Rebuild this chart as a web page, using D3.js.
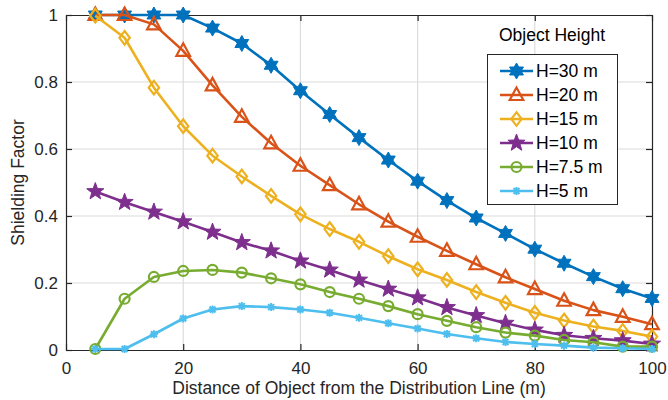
<!DOCTYPE html>
<html>
<head>
<meta charset="utf-8">
<script src="https://cdn.jsdelivr.net/npm/d3@7"></script>
<style>
  body { margin: 0; background: #fff; }
  svg { display: block; font-family: "Liberation Sans", Arial, sans-serif; }
</style>
</head>
<body>
<svg id="chart" width="668" height="400"></svg>
<script>
// Distance from the distribution line (m)
const distances = [5, 10, 15, 20, 25, 30, 35, 40, 45, 50, 55, 60, 65, 70, 75, 80, 85, 90, 95, 100];

// Shielding factor per object height
const h30 = [1.0, 1.0, 1.0, 1.0, 0.961, 0.915, 0.850, 0.774, 0.703, 0.634, 0.567, 0.504, 0.446, 0.394, 0.348, 0.301, 0.259, 0.219, 0.183, 0.154];
const h20 = [1.0, 1.0, 0.972, 0.893, 0.790, 0.696, 0.617, 0.550, 0.492, 0.435, 0.383, 0.338, 0.296, 0.256, 0.217, 0.182, 0.147, 0.119, 0.099, 0.077];
const h15 = [0.998, 0.932, 0.783, 0.668, 0.580, 0.518, 0.460, 0.405, 0.361, 0.323, 0.280, 0.241, 0.209, 0.173, 0.141, 0.111, 0.088, 0.070, 0.057, 0.040];
const h10 = [0.473, 0.441, 0.412, 0.383, 0.352, 0.321, 0.296, 0.266, 0.239, 0.209, 0.182, 0.156, 0.127, 0.103, 0.080, 0.060, 0.044, 0.035, 0.028, 0.018];
const h7_5 = [0.003, 0.153, 0.218, 0.236, 0.239, 0.231, 0.214, 0.196, 0.173, 0.153, 0.131, 0.107, 0.087, 0.068, 0.052, 0.043, 0.030, 0.023, 0.010, 0.010];
const h5 = [0.003, 0.003, 0.047, 0.094, 0.121, 0.131, 0.128, 0.121, 0.111, 0.096, 0.080, 0.064, 0.048, 0.035, 0.024, 0.018, 0.013, 0.007, 0.005, 0.003];

const seriesNames = ["H=30 m", "H=20 m", "H=15 m", "H=10 m", "H=7.5 m", "H=5 m"];
const seriesValues = [h30, h20, h15, h10, h7_5, h5];
const seriesColors = ["#0072BD", "#D95319", "#EDB120", "#7E2F8E", "#77AC30", "#4DBEEE"];
const seriesMarkers = ["hexagram", "triangle", "diamond", "pentagram", "circle", "asterisk"];

const xTicks = [0, 20, 40, 60, 80, 100];
const yTicks = [0, 0.2, 0.4, 0.6, 0.8, 1];
const xLabel = "Distance of Object from the Distribution Line (m)";
const yLabel = "Shielding Factor";
const legendTitle = "Object Height";

const svg = d3.select("#chart");
const margin = { left: 66, right: 16, top: 15, bottom: 50 };
const W = 668, H = 400;
const x = d3.scaleLinear().domain([0, 100]).range([margin.left, W - margin.right]);
const y = d3.scaleLinear().domain([0, 1]).range([H - margin.bottom, margin.top]);

const axisColor = "#262626";
const tickFont = 17;
const labelFont = 17.5;
const legendFont = 17.5;

// star path with n points
function starPath(n, rOuter, rInner) {
  const pts = [];
  for (let i = 0; i < 2 * n; i++) {
    const a = -Math.PI / 2 + i * Math.PI / n;
    const r = i % 2 === 0 ? rOuter : rInner;
    pts.push([r * Math.cos(a), r * Math.sin(a)]);
  }
  return "M" + pts.map(p => p[0].toFixed(2) + "," + p[1].toFixed(2)).join("L") + "Z";
}

function drawMarker(g, type, color) {
  switch (type) {
    case "hexagram":
      g.append("path").attr("d", starPath(6, 8, 4.6)).attr("fill", color).attr("stroke", color).attr("stroke-width", 1);
      break;
    case "triangle":
      g.append("path").attr("d", "M0,-7.5L6.8,5L-6.8,5Z").attr("fill", "none").attr("stroke", color).attr("stroke-width", 2.2);
      break;
    case "diamond":
      g.append("path").attr("d", "M0,-6.8L5.2,0L0,6.8L-5.2,0Z").attr("fill", "none").attr("stroke", color).attr("stroke-width", 2.2);
      break;
    case "pentagram":
      g.append("path").attr("d", starPath(5, 9, 3.7)).attr("fill", color).attr("stroke", color).attr("stroke-width", 1);
      break;
    case "circle":
      g.append("circle").attr("r", 5).attr("fill", "none").attr("stroke", color).attr("stroke-width", 2.2);
      break;
    case "asterisk": {
      const r = 4;
      const d = r * 0.75;
      g.append("path")
        .attr("d", `M${-r},0L${r},0M0,${-r}L0,${r}M${-d},${-d}L${d},${d}M${-d},${d}L${d},${-d}`)
        .attr("stroke", color).attr("stroke-width", 2).attr("fill", "none");
      break;
    }
  }
}

// grid
const grid = svg.append("g");
grid.selectAll("line.gx").data(xTicks.slice(1, -1)).enter().append("line")
  .attr("x1", d => x(d)).attr("x2", d => x(d)).attr("y1", y(0)).attr("y2", y(1))
  .attr("stroke", "#dcdcdc").attr("stroke-width", 1.2);
grid.selectAll("line.gy").data(yTicks.slice(1, -1)).enter().append("line")
  .attr("x1", x(0)).attr("x2", x(100)).attr("y1", d => y(d)).attr("y2", d => y(d))
  .attr("stroke", "#dcdcdc").attr("stroke-width", 1.2);

// axes (ticks pointing inward, box on)
const tickLen = 6;
const xAxis = svg.append("g").attr("transform", `translate(0,${y(0)})`)
  .call(d3.axisBottom(x).tickValues(xTicks).tickSizeInner(-tickLen).tickSizeOuter(0).tickPadding(12).tickFormat(d3.format("d")));
const xAxisTop = svg.append("g").attr("transform", `translate(0,${y(1)})`)
  .call(d3.axisTop(x).tickValues(xTicks).tickSizeInner(-tickLen).tickSizeOuter(0).tickFormat(""));
const yAxis = svg.append("g").attr("transform", `translate(${x(0)},0)`)
  .call(d3.axisLeft(y).tickValues(yTicks).tickSizeInner(-tickLen).tickSizeOuter(0).tickPadding(8).tickFormat(d => d3.format("")(+d.toFixed(1))));
const yAxisRight = svg.append("g").attr("transform", `translate(${x(100)},0)`)
  .call(d3.axisRight(y).tickValues(yTicks).tickSizeInner(-tickLen).tickSizeOuter(0).tickFormat(""));

[xAxis, xAxisTop, yAxis, yAxisRight].forEach(a => {
  a.select(".domain").attr("stroke", axisColor).attr("stroke-width", 1.2);
  a.selectAll(".tick line").attr("stroke", axisColor).attr("stroke-width", 1.2);
  a.selectAll(".tick text").attr("fill", axisColor).attr("font-size", tickFont).attr("font-family", "Liberation Sans, Arial, sans-serif");
});

// series lines and markers
const line = d3.line().x((d, i) => x(distances[i])).y(d => y(d));
seriesValues.forEach((vals, si) => {
  const color = seriesColors[si];
  const g = svg.append("g");
  g.append("path").datum(vals).attr("d", line).attr("fill", "none")
    .attr("stroke", color).attr("stroke-width", 2.6).attr("stroke-linejoin", "round");
  vals.forEach((v, i) => {
    const mg = g.append("g").attr("transform", `translate(${x(distances[i])},${y(v)})`);
    drawMarker(mg, seriesMarkers[si], color);
  });
});

// axis labels
svg.append("text").attr("x", (x(0) + x(100)) / 2).attr("y", 394)
  .attr("text-anchor", "middle").attr("font-size", labelFont).attr("fill", axisColor).text(xLabel);
svg.append("text").attr("transform", `translate(24,${(y(0) + y(1)) / 2}) rotate(-90)`)
  .attr("text-anchor", "middle").attr("font-size", labelFont).attr("fill", axisColor).text(yLabel);

// legend
const lg = svg.append("g");
lg.append("text").attr("x", 552).attr("y", 41).attr("text-anchor", "middle")
  .attr("font-size", legendFont).attr("fill", "#000").text(legendTitle);
lg.append("rect").attr("x", 487.5).attr("y", 54.5).attr("width", 130).attr("height", 150)
  .attr("fill", "#fff").attr("stroke", axisColor).attr("stroke-width", 1);
seriesNames.forEach((name, i) => {
  const cy = 71 + i * 24;
  const color = seriesColors[i];
  lg.append("line").attr("x1", 500).attr("x2", 533).attr("y1", cy).attr("y2", cy)
    .attr("stroke", color).attr("stroke-width", 2.6);
  const mg = lg.append("g").attr("transform", `translate(516.5,${cy})`);
  drawMarker(mg, seriesMarkers[i], color);
  lg.append("text").attr("x", 536).attr("y", cy).attr("dy", "0.36em")
    .attr("font-size", legendFont).attr("fill", "#000").text(name);
});
</script>
</body>
</html>
